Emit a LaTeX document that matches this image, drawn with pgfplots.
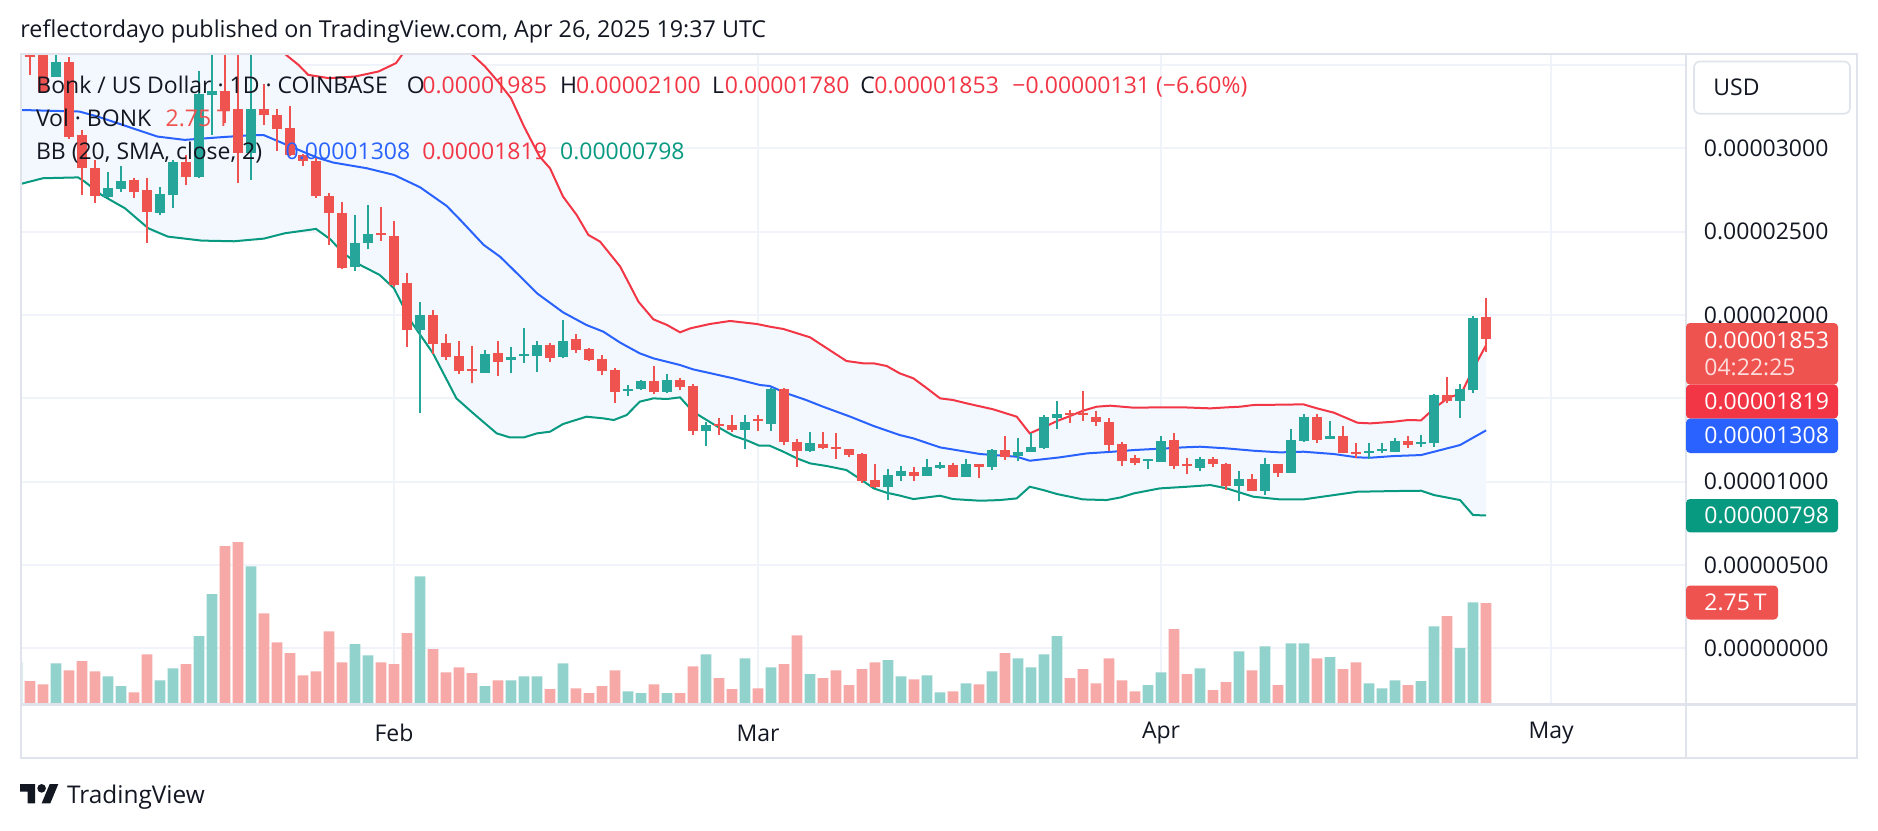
\documentclass[border=0pt]{standalone}
\usepackage{fontspec}
\setmainfont{Open Sans}
\usepackage{pgfplots}
\pgfplotsset{compat=1.18}
\usepackage{pgfplotstable}
\definecolor{upc}{HTML}{26A69A}
\definecolor{dnc}{HTML}{EF5350}
\definecolor{volup}{HTML}{92D2CC}
\definecolor{voldn}{HTML}{F7A9A7}
\definecolor{bbmid}{HTML}{2962FF}
\definecolor{bbup}{HTML}{F23645}
\definecolor{bblo}{HTML}{089981}
\definecolor{bbfill}{HTML}{F3F8FE}
\definecolor{gridc}{HTML}{F0F3FA}
\definecolor{borderc}{HTML}{E0E3EB}
\definecolor{txt}{HTML}{131722}

% candles: d = days from 1 Feb 2025, prices in 1e-6 USD, V in trillions
\pgfplotstableread{
d O H L C V
-29 31.8 37.5 31.5 36.8 1.12
-26 34.3 36.2 34.3 35.2 1.09
-22 27.08 28.58 27.0 27.62 0.73
-21 27.58 28.92 27.38 28.02 0.46
-18 26.12 27.66 25.98 27.26 0.62
-17 27.22 29.32 26.42 29.16 0.95
-15 28.28 34.62 28.2 33.26 1.84
-14 33.22 36.5 30.78 33.46 3.00
-11 29.72 36.0 28.12 32.34 3.76
-3 22.86 26.0 22.66 24.3 1.62
-2 24.34 26.6 23.94 24.86 1.31
2 19.1 20.76 14.14 20.0 3.49
7 16.54 17.9 16.5 17.66 0.46
9 17.3 18.1 16.5 17.45 0.62
10 17.55 19.2 17.1 17.65 0.73
11 17.56 18.44 16.6 18.2 0.73
13 17.46 19.7 17.4 18.46 1.09
18 15.46 15.8 15.16 15.54 0.32
19 15.54 16.1 15.5 16.06 0.27
21 15.4 16.46 15.34 16.1 0.27
24 13.06 13.6 12.16 13.4 1.34
27 13.1 14.0 11.96 13.56 1.23
29 13.46 15.6 13.06 15.54 0.98
32 11.86 13.0 11.8 12.3 0.79
38 9.66 10.74 8.9 10.4 1.18
39 10.36 10.94 10.06 10.64 0.73
41 10.36 11.36 10.34 10.9 0.76
42 10.84 11.16 10.76 11.0 0.29
44 10.3 11.36 10.3 11.04 0.54
46 10.86 11.96 10.7 11.9 0.87
48 11.56 12.6 11.26 11.76 1.23
49 11.8 12.94 11.8 12.06 0.98
50 12.0 14.0 11.96 13.86 1.34
51 13.84 14.84 13.14 14.06 1.84
58 11.24 11.36 10.76 11.34 0.49
59 11.2 12.74 11.2 12.44 0.84
62 10.8 11.46 10.66 11.36 0.95
65 9.76 10.64 8.86 10.16 1.42
67 9.46 11.4 9.2 11.06 1.56
69 10.54 13.16 10.54 12.5 1.64
70 12.44 14.06 12.4 13.9 1.64
72 12.54 13.64 12.54 12.74 1.26
75 11.76 12.3 11.36 11.82 0.54
76 11.9 12.34 11.74 11.96 0.40
77 11.8 12.6 11.8 12.44 0.62
79 12.3 12.8 12.1 12.4 0.60
80 12.3 15.26 12.1 15.2 2.11
82 14.86 15.84 13.8 15.56 1.51
83 15.5 19.94 15.34 19.84 2.77
}\tblup

\pgfplotstableread{
d O H L C V
-28 36.8 37.2 34.4 35.5 0.60
-27 36.2 36.6 33.3 33.4 0.51
-25 35.18 35.46 30.58 30.66 0.90
-24 30.78 31.12 27.22 28.82 1.15
-23 28.82 29.32 26.72 27.12 0.87
-20 28.08 28.22 27.02 27.4 0.29
-19 27.48 28.24 24.32 26.16 1.34
-16 29.16 29.62 27.78 28.28 1.07
-13 33.46 36.2 31.52 32.26 4.32
-12 32.36 36.8 27.92 29.72 4.43
-10 32.34 33.86 31.42 31.98 2.47
-9 31.98 32.34 29.86 31.18 1.67
-8 31.2 32.52 29.54 29.58 1.37
-7 29.6 29.65 28.92 29.22 0.76
-6 29.22 29.4 27.0 27.12 0.87
-5 27.14 27.3 24.2 26.1 1.97
-4 26.14 26.8 22.75 22.8 1.12
-1 24.9 26.5 24.46 24.8 1.12
0 24.74 25.64 21.7 21.8 1.07
1 21.9 22.5 18.1 19.1 1.92
3 20.0 20.3 17.66 18.26 1.48
4 18.34 18.86 17.3 17.46 0.84
5 17.54 18.44 16.46 16.66 0.98
6 16.72 18.14 15.94 16.66 0.82
8 17.74 18.44 16.36 17.2 0.62
12 18.2 18.3 17.2 17.42 0.38
14 18.53 18.86 17.74 17.9 0.40
15 17.94 18.0 17.26 17.3 0.27
16 17.34 17.6 16.4 16.66 0.46
17 16.7 16.8 14.74 15.4 0.90
20 16.04 16.94 15.26 15.36 0.51
22 16.1 16.2 15.5 15.66 0.27
23 15.74 15.86 12.8 13.06 1.01
25 13.45 13.8 12.8 13.35 0.68
26 13.4 14.0 13.0 13.1 0.38
28 13.7 14.0 13.06 13.65 0.40
30 15.54 15.6 12.2 12.4 1.07
31 12.4 12.54 10.9 11.86 1.86
33 12.26 12.96 11.96 12.0 0.68
34 12.06 12.9 11.36 12.0 0.90
35 11.94 11.96 11.46 11.6 0.49
36 11.66 11.74 9.94 10.06 0.93
37 10.1 11.06 9.6 9.66 1.12
40 10.6 10.86 10.06 10.36 0.65
43 11.0 11.1 10.26 10.3 0.32
45 11.04 11.06 10.24 10.9 0.51
47 11.9 12.74 11.3 11.46 1.37
52 14.1 14.3 13.54 14.06 0.68
53 14.1 15.44 13.66 14.0 0.93
54 13.86 14.24 13.36 13.56 0.54
55 13.6 13.8 11.86 12.2 1.23
56 12.26 12.36 10.96 11.26 0.62
57 11.44 11.6 11.0 11.14 0.32
60 12.5 12.9 10.76 10.94 2.03
61 11.06 11.4 10.44 11.0 0.79
63 11.36 11.46 10.9 11.06 0.35
64 11.06 11.14 9.5 9.74 0.57
66 10.16 10.46 9.46 9.46 0.90
68 11.06 11.06 10.3 10.54 0.49
71 13.9 14.06 12.34 12.5 1.23
73 12.74 13.34 11.7 11.7 0.93
74 11.76 12.34 11.4 11.72 1.12
78 12.44 12.74 12.04 12.2 0.49
81 15.2 16.26 14.7 14.86 2.39
84 19.85 21.0 17.8 18.53 2.75
}\tbldn

\pgfplotstableread{
d p
-29 39
-20 38.8
-14 38.3
-11 37.2
-9.5 36.3
-8.4 35.66
-7.35 35.0
-6.6 34.4
-5 34.2
-3 34.3
-1.2 34.6
0.15 35.1
0.8 35.8
2 37.2
4 37.2
5.9 35.7
7 34.9
8 34.0
9 33.0
10 31.3
11.2 29.5
12 28.8
13 27.1
14.05 26.0
14.95 24.8
15.85 24.4
17.4 22.9
18.8 20.8
19.95 19.74
21 19.4
22 18.96
22.8 19.2
24.3 19.46
25.85 19.64
27.9 19.46
28.9 19.3
29.95 19.16
32 18.66
33.3 18.0
34.8 17.24
36.1 17.1
36.9 17.1
37.9 16.94
38.9 16.5
39.95 16.2
41 15.6
42 15.0
43 14.9
44.05 14.7
46.1 14.34
47.9 13.9
48.9 12.9
49.95 13.26
51 13.64
52 13.94
53 14.26
54.05 14.5
55.1 14.56
56.9 14.44
58.9 14.46
60.7 14.46
62.8 14.4
64.05 14.46
65.1 14.5
66.1 14.6
68.15 14.62
69.95 14.64
71 14.4
72.3 14.14
74.1 13.54
75.1 13.5
76.9 13.6
78 13.7
79 13.68
80 14.4
81.1 15.04
82.1 15.3
82.9 16.6
84 18.19
}\bbupper

\pgfplotstableread{
d p
-29 32.3
-24.2 32.2
-22.8 31.9
-20.5 31.3
-18.2 30.7
-16.1 30.5
-13.5 30.65
-11 30.78
-10 30.78
-8.4 30.25
-6.6 29.66
-5.85 29.42
-4.67 29.14
-2.1 28.8
0 28.4
2 27.66
4.05 26.54
5.1 25.7
6.9 24.2
8.15 23.5
9.2 22.7
11 21.3
13 20.16
14.8 19.4
16.1 19.0
17.4 18.34
18.9 17.7
19.95 17.4
22 17.0
23 16.74
26.1 16.2
28.15 15.8
28.9 15.74
30.2 15.3
31.7 14.9
33 14.5
35.1 13.9
36.9 13.34
38.9 12.8
39.95 12.6
42 12.06
45.1 11.66
47.9 11.5
48.9 11.26
51.2 11.46
53.3 11.7
55.3 11.8
56.9 11.9
59.4 12.0
60.7 12.06
62 12.1
64.05 12.0
66.1 11.86
68.15 11.76
69.95 11.8
72.3 11.66
74.1 11.46
75.1 11.44
76.9 11.54
79 11.6
80 11.8
82 12.2
84 13.08
}\bbmiddle

\pgfplotstableread{
d p
-29 27.8
-27 28.2
-24.3 28.25
-23.8 28.0
-22.5 27.2
-20.7 26.4
-18.9 25.2
-17.4 24.7
-14.8 24.46
-12.3 24.42
-10 24.58
-8.4 24.9
-6 25.16
-4.9 24.54
-3.9 23.7
-2.6 23.0
-1.1 22.4
0 21.6
1.23 19.7
3 17.7
4.8 15.0
6.1 14.1
7.9 12.9
8.9 12.66
10 12.66
11 12.9
12 13.0
13 13.46
14.8 13.9
16.1 13.8
16.9 13.7
17.9 14.0
18.9 14.8
19.95 15.0
21 14.96
22 15.06
23 14.2
24.05 13.7
25.1 13.2
26.1 12.76
27.2 12.46
28.1 12.16
28.9 12.16
29.95 11.8
31 11.4
32 11.1
33.3 10.94
34.8 10.7
35.9 10.14
36.9 9.6
37.9 9.34
38.9 9.17
39.95 8.96
42 9.16
43 8.96
45.1 8.86
46.6 8.9
47.9 9.0
48.9 9.7
49.95 9.5
51 9.26
53 8.94
54.8 8.9
55.9 9.06
56.9 9.3
58.9 9.6
61 9.7
62.8 9.8
64.05 9.6
66.1 9.1
68.15 8.94
69.95 8.94
72.3 9.2
74.1 9.4
76.9 9.44
79 9.46
80 9.2
82 8.9
83 8.0
84 7.98
}\bblower

% band area: the upper band forward, then the lower band backward
\pgfplotstableread{
d p
-29 39
-20 38.8
-14 38.3
-11 37.2
-9.5 36.3
-8.4 35.66
-7.35 35.0
-6.6 34.4
-5 34.2
-3 34.3
-1.2 34.6
0.15 35.1
0.8 35.8
2 37.2
4 37.2
5.9 35.7
7 34.9
8 34.0
9 33.0
10 31.3
11.2 29.5
12 28.8
13 27.1
14.05 26.0
14.95 24.8
15.85 24.4
17.4 22.9
18.8 20.8
19.95 19.74
21 19.4
22 18.96
22.8 19.2
24.3 19.46
25.85 19.64
27.9 19.46
28.9 19.3
29.95 19.16
32 18.66
33.3 18.0
34.8 17.24
36.1 17.1
36.9 17.1
37.9 16.94
38.9 16.5
39.95 16.2
41 15.6
42 15.0
43 14.9
44.05 14.7
46.1 14.34
47.9 13.9
48.9 12.9
49.95 13.26
51 13.64
52 13.94
53 14.26
54.05 14.5
55.1 14.56
56.9 14.44
58.9 14.46
60.7 14.46
62.8 14.4
64.05 14.46
65.1 14.5
66.1 14.6
68.15 14.62
69.95 14.64
71 14.4
72.3 14.14
74.1 13.54
75.1 13.5
76.9 13.6
78 13.7
79 13.68
80 14.4
81.1 15.04
82.1 15.3
82.9 16.6
84 18.19
84 7.98
83 8.0
82 8.9
80 9.2
79 9.46
76.9 9.44
74.1 9.4
72.3 9.2
69.95 8.94
68.15 8.94
66.1 9.1
64.05 9.6
62.8 9.8
61 9.7
58.9 9.6
56.9 9.3
55.9 9.06
54.8 8.9
53 8.94
51 9.26
49.95 9.5
48.9 9.7
47.9 9.0
46.6 8.9
45.1 8.86
43 8.96
42 9.16
39.95 8.96
38.9 9.17
37.9 9.34
36.9 9.6
35.9 10.14
34.8 10.7
33.3 10.94
32 11.1
31 11.4
29.95 11.8
28.9 12.16
28.1 12.16
27.2 12.46
26.1 12.76
25.1 13.2
24.05 13.7
23 14.2
22 15.06
21 14.96
19.95 15.0
18.9 14.8
17.9 14.0
16.9 13.7
16.1 13.8
14.8 13.9
13 13.46
12 13.0
11 12.9
10 12.66
8.9 12.66
7.9 12.9
6.1 14.1
4.8 15.0
3 17.7
1.23 19.7
0 21.6
-1.1 22.4
-2.6 23.0
-3.9 23.7
-4.9 24.54
-6 25.16
-8.4 24.9
-10 24.58
-12.3 24.42
-14.8 24.46
-17.4 24.7
-18.9 25.2
-20.7 26.4
-22.5 27.2
-23.8 28.0
-24.3 28.25
-27 28.2
-29 27.8
}\bbband

\newcommand{\lf}{\fontsize{11.5}{13}\selectfont}
\newcommand{\pf}{\fontsize{11.5}{13}\selectfont}

\begin{document}
\begin{tikzpicture}
\fill[white] (0,0) rectangle (939pt,-415pt);

% ---------- price pane ----------
\begin{axis}[
  at={(10.5pt,-352pt)}, anchor=south west,
  scale only axis, width=832.5pt, height=325pt,
  xmin=-28.69, xmax=99.38, ymin=-3.33, ymax=35.65,
  axis line style={draw=none},
  major tick length=0pt,
  xtick={0,28,59,89}, xticklabels={Feb,Mar,Apr,May},
  ytick={0,5,10,15,20,25,30,35},
  yticklabels={0.00000000,0.00000500,0.00001000,0.00001500,0.00002000,0.00002500,0.00003000,{}},
  yticklabel pos=right,
  xmajorgrids, ymajorgrids,
  major grid style={draw=gridc, line width=1pt},
  yticklabel style={anchor=west, inner sep=0pt, xshift=8.75pt, font=\pf, text=txt},
  xticklabel style={anchor=center, inner sep=0pt, yshift=-14.5pt, font=\pf, text=txt},
  clip=true,
]
\addplot[fill=bbfill, draw=none, mark=none, forget plot] table[x=d, y=p] {\bbband} -- cycle;
\addplot[draw=bbup, line width=1pt, mark=none] table[x=d, y=p] {\bbupper};
\addplot[draw=bblo, line width=1pt, mark=none] table[x=d, y=p] {\bblower};
\addplot[draw=bbmid, line width=1pt, mark=none] table[x=d, y=p] {\bbmiddle};

% wicks
\addplot[draw=none, mark=none, forget plot,
  error bars/.cd, y dir=plus, y explicit, error mark=none,
  error bar style={draw=upc, line width=0.75pt, solid}]
  table[x=d, y=L, y error expr=\thisrow{H}-\thisrow{L}] {\tblup};
\addplot[draw=none, mark=none, forget plot,
  error bars/.cd, y dir=plus, y explicit, error mark=none,
  error bar style={draw=dnc, line width=0.75pt, solid}]
  table[x=d, y=L, y error expr=\thisrow{H}-\thisrow{L}] {\tbldn};
% bodies
\addplot[draw=none, mark=none, forget plot,
  error bars/.cd, y dir=both, y explicit, error mark=none,
  error bar style={draw=upc, line width=4.6pt, solid}]
  table[x=d, y expr=(\thisrow{O}+\thisrow{C})/2, y error expr={max(abs(\thisrow{C}-\thisrow{O})/2,0.06)}] {\tblup};
\addplot[draw=none, mark=none, forget plot,
  error bars/.cd, y dir=both, y explicit, error mark=none,
  error bar style={draw=dnc, line width=4.6pt, solid}]
  table[x=d, y expr=(\thisrow{O}+\thisrow{C})/2, y error expr={max(abs(\thisrow{C}-\thisrow{O})/2,0.06)}] {\tbldn};
\end{axis}

% ---------- volume pane ----------
\begin{axis}[
  at={(10.5pt,-352pt)}, anchor=south west,
  scale only axis, width=832.5pt, height=325pt,
  xmin=-28.69, xmax=99.38, ymin=-0.03, ymax=17.88,
  hide axis, clip=true,
]
\addplot[ybar, bar width=5.35pt, bar shift=0pt, fill=volup, draw=none] table[x=d, y=V] {\tblup};
\addplot[ybar, bar width=5.35pt, bar shift=0pt, fill=voldn, draw=none] table[x=d, y=V] {\tbldn};
\end{axis}

% ---------- frame, labels (1 unit = 1 px of the reference) ----------
\begin{scope}[x=0.5pt, y=-0.5pt]
\draw[borderc, line width=0.8pt] (21,54) rectangle (1857,758);
\draw[borderc, line width=1.2pt] (21,704.5) -- (1857,704.5);
\draw[borderc, line width=0.8pt] (1686,54) -- (1686,758);

\node[anchor=base west, inner sep=0pt, text=txt, font=\fontsize{11.65}{14}\selectfont] at (20,37)
  {reflectordayo published on TradingView.com, Apr 26, 2025 19:37 UTC};

% legend row 1
\node[anchor=base west, inner sep=0pt, text=txt, font=\lf] at (36,93) {Bonk / US Dollar · 1D · COINBASE};
\node[anchor=base west, inner sep=0pt, text=txt, font=\lf] at (406.4,93) {O};
\node[anchor=base west, inner sep=0pt, text=bbup, font=\lf] at (422,93) {0.00001985};
\node[anchor=base west, inner sep=0pt, text=txt, font=\lf] at (559.7,93) {H};
\node[anchor=base west, inner sep=0pt, text=bbup, font=\lf] at (575.8,93) {0.00002100};
\node[anchor=base west, inner sep=0pt, text=txt, font=\lf] at (711.8,93) {L};
\node[anchor=base west, inner sep=0pt, text=bbup, font=\lf] at (724.5,93) {0.00001780};
\node[anchor=base west, inner sep=0pt, text=txt, font=\lf] at (860,93) {C};
\node[anchor=base west, inner sep=0pt, text=bbup, font=\lf] at (874,93) {0.00001853};
\node[anchor=base west, inner sep=0pt, text=bbup, font=\lf] at (1012,93) {−0.00000131 (−6.60\%)};
% legend row 2
\node[anchor=base west, inner sep=0pt, text=txt, font=\lf] at (35.6,126.7) {Vol · BONK};
\node[anchor=base west, inner sep=0pt, text=dnc, font=\lf] at (165.3,126.7) {2.75 T};
% legend row 3
\node[anchor=base west, inner sep=0pt, text=txt, font=\lf] at (35.6,159.7) {BB (20, SMA, close, 2)};
\node[anchor=base west, inner sep=0pt, text=bbmid, font=\lf] at (285.3,159.7) {0.00001308};
\node[anchor=base west, inner sep=0pt, text=bbup, font=\lf] at (422,159.7) {0.00001819};
\node[anchor=base west, inner sep=0pt, text=bblo, font=\lf] at (559.7,159.7) {0.00000798};

% USD box
\draw[borderc, line width=0.8pt, rounded corners=3pt] (1694,61.5) rectangle (1850,113.7);
\node[anchor=west, inner sep=0pt, text=txt, font=\pf] at (1713,87) {USD};

% price tags
\fill[dnc, rounded corners=2pt] (1686,323) rectangle (1838,384.6);
\node[anchor=west, inner sep=0pt, text=white, font=\pf] at (1704,340.4) {0.00001853};
\node[anchor=west, inner sep=0pt, text=white!80!dnc, font=\pf] at (1704,367) {04:22:25};
\fill[bbup, rounded corners=2pt] (1686,384.6) rectangle (1838,418.6);
\node[anchor=west, inner sep=0pt, text=white, font=\pf] at (1704,401.6) {0.00001819};
\fill[bbmid, rounded corners=2pt] (1686,418.6) rectangle (1838,453);
\node[anchor=west, inner sep=0pt, text=white, font=\pf] at (1704,435.8) {0.00001308};
\fill[bblo, rounded corners=2pt] (1686,499) rectangle (1838,532.4);
\node[anchor=west, inner sep=0pt, text=white, font=\pf] at (1704,515.8) {0.00000798};
\fill[dnc, rounded corners=2pt] (1686,585.5) rectangle (1778,619.5);
\node[anchor=west, inner sep=0pt, text=white, font=\pf] at (1704,602.6) {2.75\,T};

% TradingView logo
\begin{scope}[shift={(20,779.7)}, x=0.54pt, y=-0.54pt]
\fill[txt] (14,22) -- (7,22) -- (7,11) -- (0,11) -- (0,4) -- (14,4) -- cycle;
\fill[txt] (20,8) circle (4);
\fill[txt] (28,22) -- (20,22) -- (27.5,4) -- (35.5,4) -- cycle;
\end{scope}
\node[anchor=base west, inner sep=0pt, text=txt, font=\fontsize{12.2}{14}\selectfont] at (66.7,803.3) {TradingView};
\end{scope}

\pgfresetboundingbox
\useasboundingbox (0,0) rectangle (939pt,-415pt);
\end{tikzpicture}
\end{document}
